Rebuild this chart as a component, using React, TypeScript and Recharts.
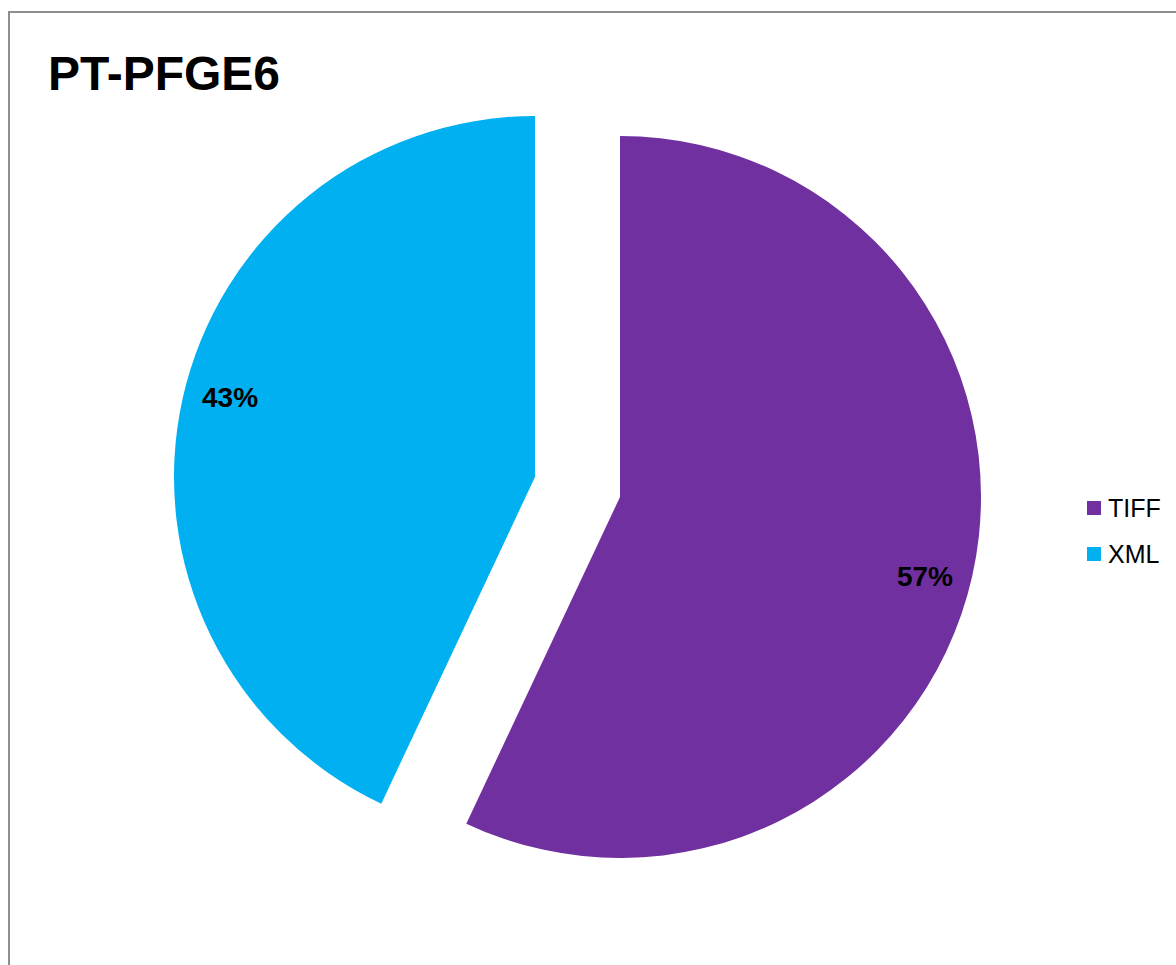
import { Cell, Legend, Pie, PieChart } from "recharts"

const categories = ["TIFF", "XML"]
const shares = [57, 43]
const colors = ["#7030A0", "#00B0F0"]

const data = categories.map((name, i) => ({ name, value: shares[i] }))

// every slice gets its own Pie so it can be pulled out of the common centre
const slices = [
  { cx: 620, cy: 497 },
  { cx: 535, cy: 477 },
]

const FONT = '"Liberation Sans", Arial, sans-serif'
const RADIAN = Math.PI / 180

function makeLabel(shown: number) {
  return (props: any) => {
    if (props.index !== shown) return null
    const angle = (props.midAngle - 2) * RADIAN
    const r = props.outerRadius * 0.873
    const x = props.cx + r * Math.cos(angle)
    const y = props.cy - r * Math.sin(angle)
    return (
      <text
        x={x}
        y={y}
        textAnchor="middle"
        dominantBaseline="central"
        fontFamily={FONT}
        fontSize={28}
        fontWeight="bold"
        fill="#000"
      >
        {Math.round(props.percent * 100)}%
      </text>
    )
  }
}

function LegendList() {
  return (
    <div style={{ fontFamily: FONT, fontSize: 25, color: "#000" }}>
      {categories.map((name, i) => (
        <div key={name} style={{ display: "flex", alignItems: "center", height: 46 }}>
          <span style={{ display: "inline-block", width: 14, height: 14, background: colors[i], marginRight: 7 }} />
          {name}
        </div>
      ))}
    </div>
  )
}

export default function App() {
  return (
    <div style={{ position: "absolute", left: 0, top: 0, width: 1176, height: 965, overflow: "hidden", background: "#fff" }}>
      <div
        style={{
          position: "absolute",
          left: 8,
          top: 11,
          width: 1300,
          height: 1100,
          border: "2px solid #8e8e8e",
        }}
      />
      <div
        style={{
          position: "absolute",
          left: 48,
          top: 44,
          fontFamily: FONT,
          fontSize: 48,
          fontWeight: "bold",
          lineHeight: "60px",
        }}
      >
        PT-PFGE6
      </div>
      <div style={{ position: "absolute", left: 0, top: 0 }}>
        <PieChart width={1176} height={965} margin={{ top: 0, right: 0, bottom: 0, left: 0 }}>
          {slices.map((s, k) => (
            <Pie
              key={categories[k]}
              data={data}
              dataKey="value"
              nameKey="name"
              cx={s.cx}
              cy={s.cy}
              outerRadius={361}
              startAngle={90}
              endAngle={-270}
              stroke="none"
              labelLine={false}
              label={makeLabel(k)}
              isAnimationActive={false}
            >
              {data.map((d, i) => (
                <Cell key={d.name} fill={i === k ? colors[i] : "transparent"} />
              ))}
            </Pie>
          ))}
          <Legend
            content={() => <LegendList />}
            wrapperStyle={{ position: "absolute", left: 1087, top: 485, width: 90 }}
          />
        </PieChart>
      </div>
    </div>
  )
}
